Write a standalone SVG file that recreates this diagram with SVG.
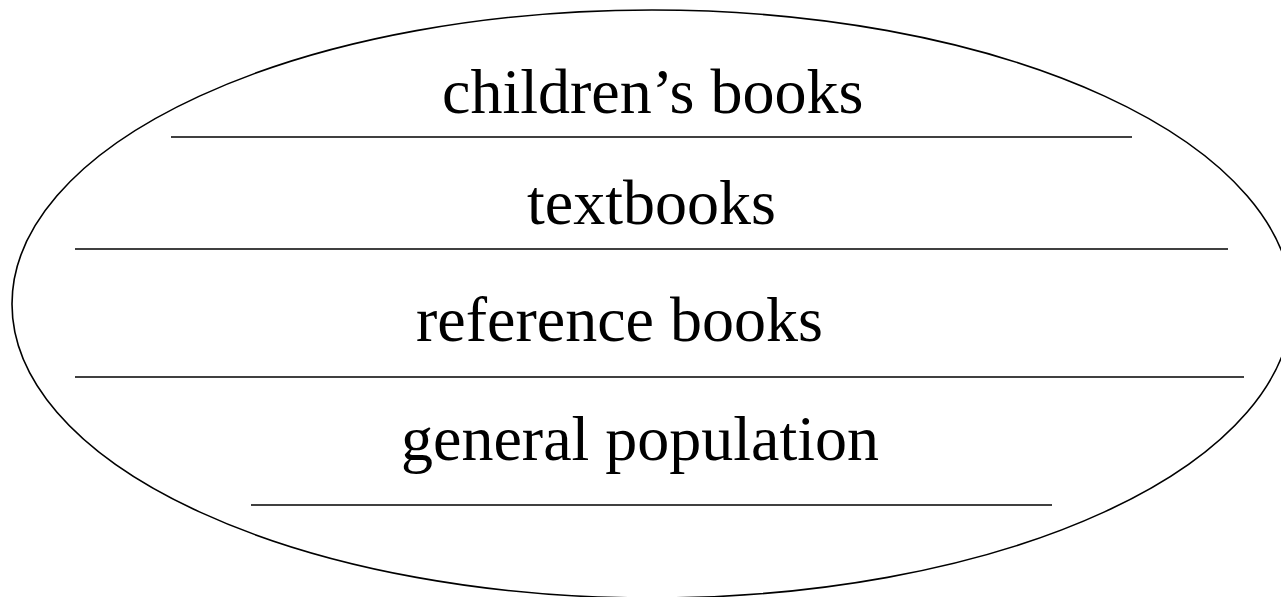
<svg xmlns="http://www.w3.org/2000/svg" width="1281" height="597" viewBox="0 0 1281 597">
<style>
.l{stroke:#000;stroke-width:1.6;fill:none}
.t{font-family:"Liberation Serif","Times New Roman",serif;font-size:64px;fill:#000}
</style>
<rect width="1281" height="597" fill="#fff"/>
<g id="outline">
<ellipse cx="652" cy="304" rx="640" ry="294" class="l"/>
</g>
<g id="connectors">
<line x1="171" y1="137" x2="1132" y2="137" class="l"/>
<line x1="75" y1="249" x2="1228" y2="249" class="l"/>
<line x1="75" y1="377" x2="1244" y2="377" class="l"/>
<line x1="251" y1="505" x2="1052" y2="505" class="l"/>
</g>
<g id="n1"><text class="t" x="442" y="113">children’s books</text></g>
<g id="n2"><text class="t" x="527" y="224">textbooks</text></g>
<g id="n3"><text class="t" x="416" y="341">reference books</text></g>
<g id="n4"><text class="t" x="401" y="460">general population</text></g>
</svg>
